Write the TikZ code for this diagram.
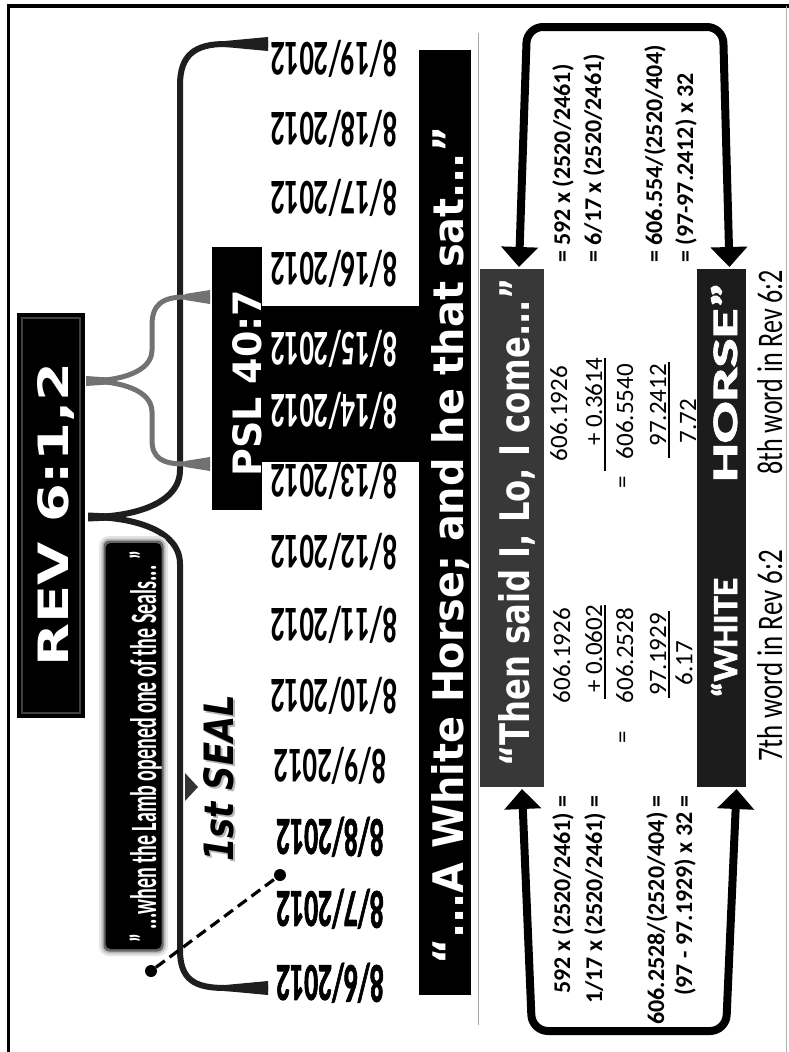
\documentclass[tikz,border=0pt]{standalone}
\usepackage{fontspec}
\usepackage{graphicx}
\usetikzlibrary{arrows.meta}
\setmainfont{DejaVu Sans}
\newfontfamily\dvs{DejaVu Sans}
\newfontfamily\crl{Carlito}
\newfontfamily\crlheavy[BoldFeatures={FakeBold=2}]{Carlito}
\definecolor{bracedark}{HTML}{1E1E1E}
\definecolor{bracegray}{HTML}{727272}
\definecolor{thenfill}{HTML}{383838}
\definecolor{horsefill}{HTML}{1C1C1C}
\definecolor{pointer}{HTML}{333333}
\newcommand\dte[1]{\scalebox{0.575}[1]{\fontsize{50}{50}\selectfont\crl\bfseries #1}}
\newcommand\dth[1]{\scalebox{0.52}[1]{\fontsize{53}{53}\selectfont\crlheavy\bfseries #1}}
\tikzset{
  vtext/.style={rotate=90, inner sep=0pt, text depth=0pt},
  dtext/.style={rotate=180, inner sep=0pt, text depth=0pt, anchor=center},
  eqtext/.style={vtext, font=\crl\bfseries\fontsize{24}{24}\selectfont},
  numtext/.style={vtext, font=\crl\fontsize{25}{25}\selectfont},
  boxfill/.style={inner sep=0pt, outer sep=0pt},
  bigarr/.style={line width=8pt, {Triangle[width=36pt,length=20pt]}-{Triangle[width=36pt,length=20pt]}, rounded corners=16pt},
  bigbrace/.style={line width=6pt, draw=bracedark},
  graybrace/.style={line width=5pt, draw=bracegray},
  dotnode/.style={circle, fill=black, minimum size=12pt, inner sep=0pt},
  dashconn/.style={line width=3.2pt, dash pattern=on 11pt off 6pt},
  uline/.style={line width=1.4pt}
}
\begin{document}
\begin{tikzpicture}[x=1pt,y=-1pt]
\useasboundingbox (0,0) rectangle (789,1052);
\fill[white] (0,0) rectangle (789,1052);
% frame
\draw[line width=3.5pt] (8.5,1052) -- (8.5,6) -- (789,6);
\draw[gray!60, line width=1.2pt] (786.5,6) -- (786.5,1052);

% REV box
\node[boxfill, fill=black, minimum width=68pt, minimum height=405pt] (revbox) at (51,515.5) {};
\draw[gray!50!black, line width=1.5pt] ([shift={(5pt,-5pt)}]revbox.north west) rectangle ([shift={(-5pt,5pt)}]revbox.south east);
\node[vtext, text=white, anchor=base west] (revtxt) at (68,667) {\resizebox{304pt}{31pt}{\dvs\bfseries REV 6:1,2}};

% big brace
\draw[bigbrace] (268,44) -- (225,44) .. controls (195,44) and (180,55) .. (180,85) -- (180,470) .. controls (180,505) and (130,517) .. (90,517);
\draw[bigbrace] (90,517) .. controls (130,517) and (180,529) .. (180,564) -- (180,950) .. controls (180,980) and (195,988) .. (225,988) -- (268,988);
\fill[bracedark] (268,37) -- (268,51) -- (225,47) -- (225,41) -- cycle;
\fill[bracedark] (268,981) -- (268,995) -- (225,991) -- (225,985) -- cycle;
\fill[bracedark] (88,512.5) -- (88,521.5) -- (120,520) -- (120,514) -- cycle;

% gray brace
\draw[graybrace] (210,297) -- (185,297) .. controls (162,297) and (152,305) .. (152,325) -- (152,350) .. controls (152,372) and (120,381) .. (87,381);
\draw[graybrace] (87,381) .. controls (120,381) and (152,390) .. (152,412) -- (152,440) .. controls (152,458) and (162,464) .. (185,464) -- (210,464);
\fill[bracegray] (210,290) -- (210,304) -- (185,300) -- (185,294) -- cycle;
\fill[bracegray] (210,457) -- (210,471) -- (185,467) -- (185,461) -- cycle;
\fill[bracegray] (86,376) -- (86,386) -- (115,384) -- (115,378) -- cycle;

% Lamb box with glow
\fill[gray!22, rounded corners=10pt] (99,536) rectangle (168,956);
\fill[gray!55, rounded corners=8pt] (101.5,538.5) rectangle (165.5,953.5);
\fill[gray!80!black, rounded corners=6pt] (103.5,540.5) rectangle (163.5,951.5);
\node[boxfill, fill=black, rounded corners=5pt, minimum width=56pt, minimum height=406pt] (lambbox) at (133.5,746) {};
\node[vtext, text=white, anchor=base west] (lambtxt) at (156,943) {\resizebox{392pt}{27pt}{\crl\bfseries ” ...when the Lamb opened one of the Seals... ”}};

% 1st SEAL
\node[vtext, text=gray!55, anchor=base west] (sealshadow) at (235.5,864) {\resizebox{167pt}{30pt}{\dvs\bfseries\itshape 1st SEAL}};
\node[vtext, text=black, anchor=base west] (sealtxt) at (233,862) {\resizebox{167pt}{30pt}{\dvs\bfseries\itshape 1st SEAL}};
\fill[pointer] (185,773) -- (198,787) -- (185,801) -- cycle;

% PSL box, junction and bar
\node[boxfill, fill=black, minimum width=50pt, minimum height=263pt] (pslbox) at (237,378.5) {};
\node[boxfill, fill=black, minimum width=52pt, minimum height=945pt] (barbox) at (445,522.5) {};
\fill[black] (pslbox.east |- 0,306) rectangle (barbox.west |- 0,462);
\node[vtext, text=white, anchor=base west] (psltxt) at (261,477) {\resizebox{187pt}{29pt}{\dvs\bfseries PSL 40:7}};
\node[vtext, text=white, anchor=base west] (bartxt) at (463,965) {\resizebox{838pt}{32pt}{\dvs\bfseries “...A White Horse; and he that sat...”}};

% dates
\node[dtext] (d19) at (334,60) {\dte{8/19/2012}};
\node[dtext] (d18) at (334,130) {\dte{8/18/2012}};
\node[dtext] (d17) at (334,199) {\dte{8/17/2012}};
\node[dtext] (d16) at (334,270) {\dte{8/16/2012}};
\node[dtext, text=white] (d15) at (334,350) {\dte{8/15/2012}};
\node[dtext, text=white] (d14) at (334,412) {\dte{8/14/2012}};
\node[dtext] (d13) at (334,482) {\dte{8/13/2012}};
\node[dtext] (d12) at (334,553) {\dte{8/12/2012}};
\node[dtext] (d11) at (334,626) {\dte{8/11/2012}};
\node[dtext] (d10) at (334,697) {\dte{8/10/2012}};
\node[dtext] (d9) at (330,767) {\dte{8/9/2012}};
\node[dtext] (d8) at (330,838) {\dth{8/8/2012}};
\node[dtext] (d7) at (330,910) {\dth{8/7/2012}};
\node[dtext] (d6) at (330,984) {\dth{8/6/2012}};

% dashed pointer
\node[dotnode] (dotA) at (151,971) {};
\node[dotnode] (dotB) at (280,875) {};
\draw[dashconn] (dotA) -- (dotB);

% thin divider
\draw[gray!70, line width=1pt] (478,33) -- (478,1025);

% Then said box
\node[boxfill, fill=thenfill, minimum width=64pt, minimum height=518pt] (thenbox) at (512,528) {};
\node[vtext, text=white, anchor=base west] (thentxt) at (529,767) {\resizebox{488pt}{31pt}{\dvs\bfseries “Then said I, Lo, I come...”}};

% WHITE HORSE box
\node[boxfill, fill=horsefill, minimum width=49pt, minimum height=518pt] (horsebox) at (721.5,528) {};
\node[vtext, text=white, anchor=base west] (whitetxt) at (737,698) {\resizebox{120pt}{26pt}{\crlheavy\bfseries “WHITE}};
\node[vtext, text=white, anchor=base west] (horsetxt) at (737,482) {\resizebox{200pt}{26pt}{\crlheavy\bfseries HORSE”}};

% word labels
\node[vtext, anchor=base west] (w7) at (782,762) {\resizebox{212pt}{25pt}{\crl 7th word in Rev 6:2}};
\node[vtext, anchor=base west] (w8) at (782,475) {\resizebox{205pt}{25pt}{\crl 8th word in Rev 6:2}};

% upper equations
\node[eqtext, anchor=base west] (ue1) at (570,263) {= 592 x (2520/2461)};
\node[eqtext, anchor=base west] (ue2) at (601,263) {= 6/17 x (2520/2461)};
\node[eqtext, anchor=base west] (ue3) at (662,263) {= 606.554/(2520/404)};
\node[eqtext, anchor=base west] (ue4) at (693,263) {= (97-97.2412) x 32};
% lower equations
\node[eqtext, anchor=base east] (le1) at (570,795) {592 x (2520/2461) =};
\node[eqtext, anchor=base east] (le2) at (602,795) {1/17 x (2520/2461) =};
\node[eqtext, anchor=base east] (le3) at (664,795) {606.2528/(2520/404) =};
\node[eqtext, anchor=base east] (le4) at (692,795) {(97 - 97.1929) x 32 =};

% upper sums
\node[numtext, anchor=base east] (un1) at (567,366) {606.1926};
\node[numtext, anchor=base east] (un2) at (602,358) {+ 0.3614};
\draw[uline] (605,358) -- (605,471);
\node[numtext, anchor=base east] (un3) at (633,364) {606.5540};
\node[numtext, anchor=center] (ueq) at (625,482) {=};
\node[numtext, anchor=base east] (un4) at (666,364) {97.2412};
\draw[uline] (669,362) -- (669,458);
\node[numtext, anchor=center] (un5) at (688,421) {7.72};
% lower sums
\node[numtext, anchor=base east] (ln1) at (570,608) {606.1926};
\node[numtext, anchor=base east] (ln2) at (602,605) {+ 0.0602};
\draw[uline] (605,605) -- (605,699);
\node[numtext, anchor=base east] (ln3) at (633,608) {606.2528};
\node[numtext, anchor=center] (leq) at (625,737) {=};
\node[numtext, anchor=base east] (ln4) at (666,613) {97.1929};
\draw[uline] (669,611) -- (669,698);
\node[numtext, anchor=center] (ln5) at (684,663) {6.17};

% big arrows
\coordinate (ua1) at (527,27);
\coordinate (ua2) at (723,27);
\draw[bigarr] ([xshift=7pt,yshift=2pt]thenbox.north) -- (ua1) -- (ua2) -- ([xshift=8pt,yshift=2pt]horsebox.north);
\coordinate (la1) at (532,1031);
\coordinate (la2) at (726,1031);
\draw[bigarr] ([xshift=10pt,yshift=-2pt]thenbox.south) -- (la1) -- (la2) -- ([xshift=15pt,yshift=-2pt]horsebox.south);
\end{tikzpicture}
\end{document}
